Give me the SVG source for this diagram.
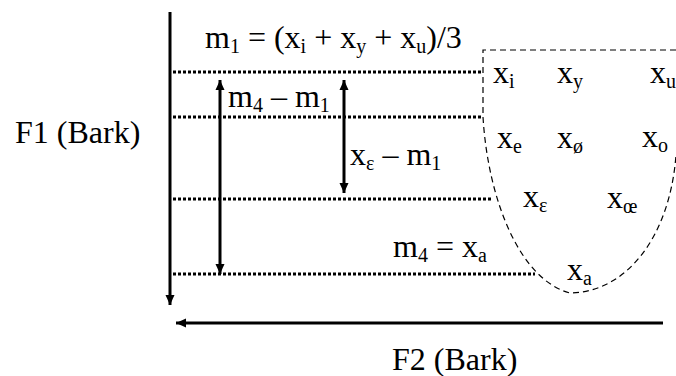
<svg xmlns="http://www.w3.org/2000/svg" width="676" height="376" viewBox="0 0 676 376">
<style>
text{font-family:'Liberation Serif','Times New Roman',serif;fill:#000;font-size:32px}
.s{font-size:20px}
.axis{stroke:#000;stroke-width:3;fill:none}
.dot{stroke:#000;stroke-width:3;stroke-dasharray:3 2;fill:none}
.dash{stroke:#000;stroke-width:1.2;stroke-dasharray:6 4;fill:none}
</style>
<defs>
<marker id="ah" viewBox="0 0 10 10" refX="10" refY="5" markerWidth="10" markerHeight="10" markerUnits="userSpaceOnUse" orient="auto-start-reverse">
<path d="M0,0.5 L10,5 L0,9.5 z" fill="#000"/>
</marker>
</defs>
<g id="connectors">
<line class="axis" x1="170" y1="12" x2="170" y2="305" marker-end="url(#ah)"/>
<line class="axis" x1="663" y1="323" x2="176" y2="323" marker-end="url(#ah)"/>
<line class="dot" x1="173" y1="72" x2="482" y2="72"/>
<line class="dot" x1="173" y1="117" x2="482" y2="117"/>
<line class="dot" x1="173" y1="199" x2="492" y2="199"/>
<line class="dot" x1="173" y1="274" x2="535" y2="274"/>
<line class="axis" x1="220" y1="80" x2="220" y2="274" marker-start="url(#ah)" marker-end="url(#ah)"/>
<line class="axis" x1="344" y1="80" x2="344" y2="193" marker-start="url(#ah)" marker-end="url(#ah)"/>
</g>
<g id="vowel-space">
<path class="dash" d="M676,50 L483,50 L483,117 C488,200 520,280 570,293 C628,292 670,235 676,155"/>
</g>
<g id="labels">
<text x="15" y="143">F1 (Bark)</text>
<text x="392" y="370">F2 (Bark)</text>
<text x="205" y="48">m<tspan class="s" dy="5">1</tspan><tspan dy="-5"> = (x</tspan><tspan class="s" dy="5">i</tspan><tspan dy="-5"> + x</tspan><tspan class="s" dy="5">y</tspan><tspan dy="-5"> + x</tspan><tspan class="s" dy="5">u</tspan><tspan dy="-5">)/3</tspan></text>
<text x="228" y="107">m<tspan class="s" dy="5">4</tspan><tspan dy="-5"> – m</tspan><tspan class="s" dy="5">1</tspan></text>
<text x="350" y="165">x<tspan class="s" dy="5">ε</tspan><tspan dy="-5"> – m</tspan><tspan class="s" dy="5">1</tspan></text>
<text x="393" y="257">m<tspan class="s" dy="5">4</tspan><tspan dy="-5"> = x</tspan><tspan class="s" dy="5">a</tspan></text>
</g>
<g id="vowels">
<text x="493" y="83">x<tspan class="s" dy="5">i</tspan></text>
<text x="557" y="83">x<tspan class="s" dy="5">y</tspan></text>
<text x="650" y="83">x<tspan class="s" dy="5">u</tspan></text>
<text x="497" y="148">x<tspan class="s" dy="5">e</tspan></text>
<text x="557" y="148">x<tspan class="s" dy="5">ø</tspan></text>
<text x="642" y="147">x<tspan class="s" dy="5">o</tspan></text>
<text x="523" y="207">x<tspan class="s" dy="5">ε</tspan></text>
<text x="607" y="208">x<tspan class="s" dy="5">œ</tspan></text>
<text x="567" y="280">x<tspan class="s" dy="5">a</tspan></text>
</g>
</svg>
